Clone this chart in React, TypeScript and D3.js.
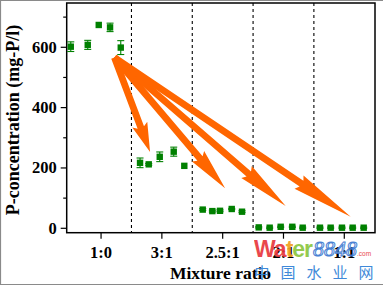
import React from "react";
import * as d3 from "d3";

const ratios = ["1:0", "3:1", "2.5:1", "2:1", "1:1"];
// sample positions (in category units) and values for each ratio group
const xPositions = [
  [-0.498, -0.219, -0.038, 0.148, 0.324],
  [0.641, 0.784, 0.965, 1.195, 1.369],
  [1.672, 1.83, 1.956, 2.149, 2.318],
  [2.593, 2.773, 2.954, 3.145, 3.316],
  [3.6, 3.776, 3.962, 4.138, 4.319],
];
const values = [
  [602, 608, 674, 666, 599],
  [217, 212, 237, 254, 207],
  [62, 57, 58, 64, 55],
  [3, 2, 5, 5, 2],
  [2, 2, 2, 2, 2],
];
const errors = [
  [16, 15, 0, 14, 23],
  [16, 3, 16, 15, 0],
  [3, 3, 3, 2, 3],
  [2, 2, 2, 2, 2],
  [2, 2, 2, 2, 2],
];
const yMajorTicks = [0, 200, 400, 600];
const yMinorTicks = [100, 300, 500, 700];
const dividers = [0.5, 1.5, 2.5, 3.5];
const arrowStart = { x: 0.22, v: 566 };
const arrowTips = [
  { x: 0.806, v: 253 },
  { x: 2.04, v: 133 },
  { x: 3.036, v: 74 },
  { x: 4.105, v: 38 },
];
const watermarkChars = ["中", "国", "水", "业", "网"];

const W = 383;
const H = 285;
const FONT = "'Liberation Serif', 'Times New Roman', serif";

function arrowPath(sx: number, sy: number, tx: number, ty: number) {
  const dx = tx - sx, dy = ty - sy;
  const L = Math.hypot(dx, dy);
  const ux = dx / L, uy = dy / L;
  const nx = -uy, ny = ux;
  const headLen = 8 + 0.18 * L;
  const sw = 3.4, hw = 8, back = 3;
  const bx = tx - ux * headLen, by = ty - uy * headLen;
  const pts: [number, number][] = [
    [sx + nx * sw, sy + ny * sw],
    [bx + nx * sw, by + ny * sw],
    [bx + nx * hw - ux * back, by + ny * hw - uy * back],
    [tx, ty],
    [bx - nx * hw - ux * back, by - ny * hw - uy * back],
    [bx - nx * sw, by - ny * sw],
    [sx - nx * sw, sy - ny * sw],
  ];
  return "M" + pts.map((p) => p.join(",")).join("L") + "Z";
}

export default function App() {
  const left = 66.7, right = 375, top = 3, bottom = 232.7;
  const x = d3.scaleLinear().domain([-0.565, 4.505]).range([left, right]);
  const y = d3.scaleLinear().domain([-14.6, 746.8]).range([bottom, top]);
  const green = "#008000";
  const ms = 6.4;

  return (
    <svg
      width={W}
      height={H}
      style={{ position: "fixed", left: 0, top: 0, background: "#fff" }}
      fontFamily={FONT}
    >
      <rect x={0} y={0} width={W} height={H} fill="#fff" />
      {/* outer gray border */}
      <path d={`M${W},0.5H0.5V${H - 0.5}H${W}`} fill="none" stroke="#8a8a8a" strokeWidth={1.2} />

      {/* dividers */}
      {dividers.map((d, i) => (
        <line key={i} x1={x(d)} x2={x(d)} y1={top} y2={bottom} stroke="#000" strokeWidth={1.1} strokeDasharray="3,3" />
      ))}

      {/* frame */}
      <rect x={left} y={top} width={right - left} height={bottom - top} fill="none" stroke="#000" strokeWidth={1.5} />

      {/* y ticks */}
      {yMajorTicks.map((t) => (
        <g key={t}>
          <line x1={left - 6} x2={left} y1={y(t)} y2={y(t)} stroke="#000" strokeWidth={1.2} />
          <text x={left - 10} y={y(t) + 5.5} textAnchor="end" fontSize={16.5} fontWeight="bold">{t}</text>
        </g>
      ))}
      {yMinorTicks.map((t) => (
        <line key={t} x1={left - 3.5} x2={left} y1={y(t)} y2={y(t)} stroke="#000" strokeWidth={1.2} />
      ))}

      {/* x ticks */}
      {ratios.map((r, i) => (
        <g key={r}>
          <line x1={x(i)} x2={x(i)} y1={bottom} y2={bottom + 6} stroke="#000" strokeWidth={1.2} />
          <text x={x(i)} y={258} textAnchor="middle" fontSize={16.5} fontWeight="bold">{r}</text>
        </g>
      ))}

      {/* axis titles */}
      <text x={220.5} y={279} textAnchor="middle" fontSize={17.5} fontWeight="bold">Mixture ratio</text>
      <text transform={`translate(19,120) rotate(-90)`} textAnchor="middle" fontSize={18} fontWeight="bold">
        P-concentration (mg-P/l)
      </text>

      {/* data */}
      {values.map((grp, gi) =>
        grp.map((v, j) => {
          const px = x(xPositions[gi][j]);
          const e = errors[gi][j];
          return (
            <g key={`${gi}-${j}`}>
              {e > 0 && (
                <g stroke={green} strokeWidth={1.1}>
                  <line x1={px} x2={px} y1={y(v - e)} y2={y(v + e)} />
                  <line x1={px - 3.5} x2={px + 3.5} y1={y(v - e)} y2={y(v - e)} />
                  <line x1={px - 3.5} x2={px + 3.5} y1={y(v + e)} y2={y(v + e)} />
                </g>
              )}
              <rect x={px - ms / 2} y={y(v) - ms / 2} width={ms} height={ms} fill={green} />
            </g>
          );
        })
      )}

      {/* arrows */}
      {arrowTips.map((t, i) => (
        <path
          key={i}
          d={arrowPath(x(arrowStart.x), y(arrowStart.v), x(t.x), y(t.v))}
          fill="#ff6600"
        />
      ))}

      {/* watermark */}
      <g opacity={0.92}>
        <text x={254} y={257} fontFamily="'Liberation Sans', Arial, sans-serif" fontWeight="bold" fontSize={23} letterSpacing={-1}>
          <tspan fill="#e8383d">Wa</tspan>
          <tspan fill="#f0a020">t</tspan>
          <tspan fill="#8cc63f">er</tspan>
        </text>
        <text x={313} y={256} fontFamily={FONT} fontStyle="italic" fontSize={22} fill="#eef4ff" stroke="#3b78d0" strokeWidth={1}>
          8848
        </text>
        <text x={357} y={256} fontFamily="'Liberation Sans', Arial, sans-serif" fontSize={6.5} fill="#e8383d">.com</text>
        {watermarkChars.map((c, i) => (
          <text key={c} x={262 + i * 26} y={278} textAnchor="middle" fontFamily="'Noto Sans CJK SC', sans-serif" fontSize={15} fill="#2f7fd6">
            {c}
          </text>
        ))}
      </g>
    </svg>
  );
}
